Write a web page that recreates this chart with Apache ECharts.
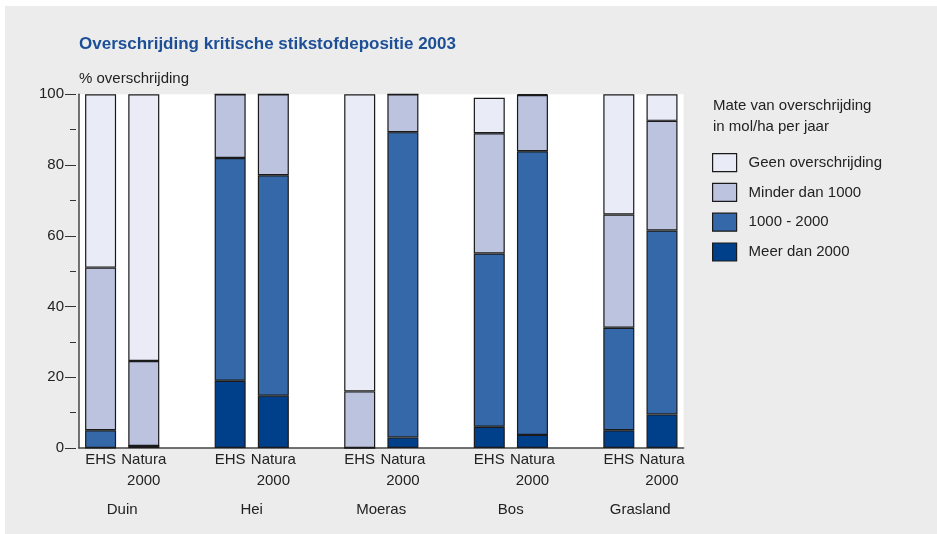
<!DOCTYPE html>
<html>
<head>
<meta charset="utf-8">
<script src="https://cdn.jsdelivr.net/npm/echarts@6/dist/echarts.min.js"></script>
<style>
  html, body { margin: 0; padding: 0; background: #fff; }
  #chart { width: 937px; height: 534px; }
</style>
</head>
<body>
<div id="chart"></div>
<script>
// slots: two bars per group, one empty slot between groups
const slotLabels = ['EHS', 'Natura\n2000', '', 'EHS', 'Natura\n2000', '', 'EHS', 'Natura\n2000', '',
  'EHS', 'Natura\n2000', '', 'EHS', 'Natura\n2000']
const groups = ['Duin', 'Hei', 'Moeras', 'Bos', 'Grasland']
const yTicks = [0, 20, 40, 60, 80, 100]

const meer = [0, 0.6, '-', 19, 14.8, '-', 0, 3, '-', 6, 3.7, '-', 5, 9.5]
const tussen = [5, 0, '-', 63, 62.3, '-', 0, 86.3, '-', 49, 80.2, '-', 29, 52]
const minder = [46, 24, '-', 18, 22.9, '-', 16, 10.7, '-', 34, 15.9, '-', 32, 31]
const geen = [49, 75.4, '-', 0, 0, '-', 84, 0, '-', 10, 0.2, '-', 34, 7.5]

const seriesNames = ['Geen overschrijding', 'Minder dan 1000', '1000 - 2000', 'Meer dan 2000']
const colors = ['#e9ecf6', '#bbc3df', '#3568a9', '#00408a']

const font = 'Liberation Sans, Arial, sans-serif'
const fs = 15
const chart = echarts.init(document.getElementById('chart'))

function bar(name, data, color) {
  return {
    name: name,
    type: 'bar',
    stack: 'total',
    data: data,
    barWidth: 31,
    xAxisIndex: 0,
    yAxisIndex: 0,
    itemStyle: { color: color, borderColor: '#1a1a1a', borderWidth: 1.2 },
    emphasis: { disabled: true }
  }
}

chart.setOption({
  animation: false,
  backgroundColor: '#fff',
  graphic: [{
    type: 'rect',
    left: 5, top: 6,
    shape: { width: 932, height: 528 },
    style: { fill: '#ececec' },
    z: -10
  }, {
    type: 'text',
    left: 713, top: 95,
    style: {
      text: 'Mate van overschrijding\nin mol/ha per jaar',
      fill: '#222', fontSize: fs, fontFamily: font, lineHeight: 21
    }
  }],
  title: {
    text: 'Overschrijding kritische stikstofdepositie 2003',
    left: 74, top: 31,
    textStyle: { color: '#1d4f97', fontSize: 17, fontWeight: 'bold', fontFamily: font }
  },
  legend: {
    orient: 'vertical',
    left: 707, top: 148,
    itemWidth: 24, itemHeight: 18, itemGap: 10.6,
    icon: 'rect',
    data: seriesNames,
    itemStyle: { borderColor: '#1a1a1a', borderWidth: 1.2 },
    textStyle: { fontSize: fs, color: '#222', fontFamily: font, padding: [0, 0, 0, 7] },
    selectedMode: false
  },
  grid: [
    { left: 79, right: 253.4, top: 94.3, bottom: 86, show: true, backgroundColor: '#fff', borderWidth: 0 },
    { left: 57.4, width: 647.6, top: 94.3, bottom: 86, show: false }
  ],
  xAxis: [{
    type: 'category',
    gridIndex: 0,
    data: slotLabels,
    axisLine: { lineStyle: { color: '#444', width: 1.5 } },
    axisTick: { show: false },
    axisLabel: { color: '#222', fontSize: fs, fontFamily: font, margin: 1, lineHeight: 21, interval: 0 }
  }, {
    type: 'category',
    gridIndex: 1,
    data: groups,
    axisLine: { show: false },
    axisTick: { show: false },
    axisLabel: { color: '#222', fontSize: fs, fontFamily: font, margin: 54, interval: 0 }
  }],
  yAxis: [{
    type: 'value',
    gridIndex: 0,
    min: 0, max: 100, interval: 20,
    name: '% overschrijding',
    nameLocation: 'end',
    nameGap: 8,
    nameTextStyle: { color: '#222', fontSize: fs, fontFamily: font, align: 'left' },
    axisLine: { show: true, lineStyle: { color: '#444', width: 1.5 } },
    axisTick: { show: false },
    axisLabel: { show: false },
    splitLine: { show: false }
  }, {
    type: 'value',
    gridIndex: 0,
    position: 'left',
    offset: 3,
    min: 0, max: 100, interval: 20,
    axisLine: { show: false },
    axisTick: { show: true, length: 11, lineStyle: { color: '#333' } },
    minorTick: { show: true, splitNumber: 2, length: 6, lineStyle: { color: '#333' } },
    axisLabel: {
      color: '#222', fontSize: fs, fontFamily: font, margin: 12,
      formatter: v => (yTicks.includes(v) ? String(v) : '')
    },
    splitLine: { show: false }
  }, {
    type: 'value',
    gridIndex: 1,
    show: false
  }],
  series: [
    bar(seriesNames[3], meer, colors[3]),
    bar(seriesNames[2], tussen, colors[2]),
    bar(seriesNames[1], minder, colors[1]),
    bar(seriesNames[0], geen, colors[0]),
    { type: 'bar', xAxisIndex: 1, yAxisIndex: 2, data: [], silent: true }
  ]
})
</script>
</body>
</html>
